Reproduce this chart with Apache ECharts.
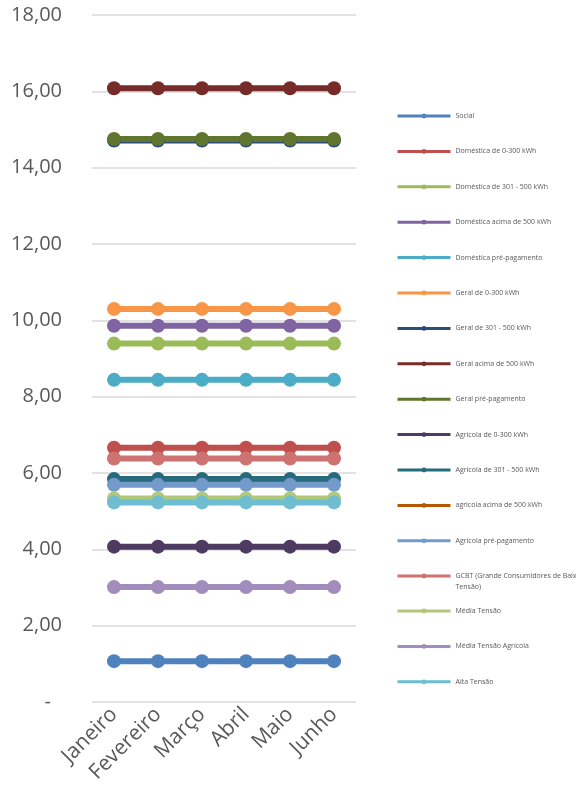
<!DOCTYPE html>
<html>
<head>
<meta charset="utf-8">
<script src="https://cdn.jsdelivr.net/npm/echarts@6/dist/echarts.min.js"></script>
<style>
html,body{margin:0;padding:0;background:#fff;}
#c{width:576px;height:798px;}
</style>
</head>
<body>
<div id="c"></div>
<script>
const months = ['Janeiro','Fevereiro','Março','Abril','Maio','Junho'];
const seriesNames = [
  'Social','Doméstica de 0-300 kWh','Doméstica de 301 - 500 kWh','Doméstica acima de 500 kWh',
  'Doméstica pré-pagamento','Geral de 0-300 kWh','Geral de 301 - 500 kWh','Geral acima de 500 kWh',
  'Geral pré-pagamento','Agrícola de 0-300 kWh','Agrícola de 301 - 500 kWh','agrícola acima de 500 kWh',
  'Agrícola pré-pagamento','GCBT (Grande Consumidores de Baixa Tensão)','Média Tensão','Média Tensão Agrícola','Alta Tensão'
];
const social            = [1.07,1.07,1.07,1.07,1.07,1.07];
const domestica0_300    = [6.66,6.66,6.66,6.66,6.66,6.66];
const domestica301_500  = [9.39,9.39,9.39,9.39,9.39,9.39];
const domesticaAcima500 = [9.86,9.86,9.86,9.86,9.86,9.86];
const domesticaPre      = [8.44,8.44,8.44,8.44,8.44,8.44];
const geral0_300        = [10.30,10.30,10.30,10.30,10.30,10.30];
const geral301_500      = [14.71,14.71,14.71,14.71,14.71,14.71];
const geralAcima500     = [16.08,16.08,16.08,16.08,16.08,16.08];
const geralPre          = [14.75,14.75,14.75,14.75,14.75,14.75];
const agricola0_300     = [4.07,4.07,4.07,4.07,4.07,4.07];
const agricola301_500   = [5.84,5.84,5.84,5.84,5.84,5.84];
const agricolaAcima500  = [null,null,null,null,null,null];
const agricolaPre       = [5.69,5.69,5.69,5.69,5.69,5.69];
const gcbt              = [6.38,6.38,6.38,6.38,6.38,6.38];
const mediaTensao       = [5.33,5.33,5.33,5.33,5.33,5.33];
const mediaTensaoAgr    = [3.01,3.01,3.01,3.01,3.01,3.01];
const altaTensao        = [5.23,5.23,5.23,5.23,5.23,5.23];
const seriesValues = [social,domestica0_300,domestica301_500,domesticaAcima500,domesticaPre,geral0_300,
  geral301_500,geralAcima500,geralPre,agricola0_300,agricola301_500,agricolaAcima500,agricolaPre,gcbt,
  mediaTensao,mediaTensaoAgr,altaTensao];
const colors = ['#4F81BD','#C0504D','#9BBB59','#8064A2','#4BACC6','#F79646','#2C4D75','#772C2A',
  '#5F7530','#4D3B62','#276A7C','#B65708','#729ACA','#CD7371','#AFC97A','#A18CBB','#6FBDD1'];

const legendText = {color:'#595959', fontFamily:'Open Sans', fontSize:7, lineHeight:10, height:10, width:150, overflow:'break'};
const legendCommon = {
  orient:'vertical', left:396, padding:0,
  itemWidth:53, itemHeight:6, itemGap:25.4,
  lineStyle:{width:3},
  textStyle:legendText
};
const legendA = seriesNames.slice(0,13);
const legendG = [{name:seriesNames[13], textStyle:{color:'#595959', fontFamily:'Open Sans', fontSize:7, lineHeight:10.5, width:132, overflow:'break'}}];
const legendB = seriesNames.slice(14);

const chart = echarts.init(document.getElementById('c'), null, {renderer:'canvas'});
chart.setOption({
  animation:false,
  color: colors,
  grid:{left:92, right:220, top:15, bottom:96, containLabel:false},
  xAxis:{
    type:'category', data:months, boundaryGap:true,
    axisLine:{show:false}, axisTick:{show:false},
    axisLabel:{rotate:45, margin:9, color:'#595959', fontFamily:'Open Sans', fontSize:21, interval:0}
  },
  yAxis:{
    type:'value', min:0, max:18, interval:2,
    axisLine:{show:false}, axisTick:{show:false},
    splitLine:{lineStyle:{color:'#D9D9D9', width:1.5}},
    axisLabel:{
      margin:30, color:'#595959', fontFamily:'Open Sans', fontSize:20,
      formatter:function(v){ return v===0 ? '{d|-}' : v.toFixed(2).replace('.',','); },
      rich:{d:{color:'#595959', fontFamily:'Open Sans', fontSize:20, padding:[0,11,0,0]}}
    }
  },
  legend:[
    Object.assign({}, legendCommon, {top:111, data:legendA}),
    Object.assign({}, legendCommon, {top:562, data:legendG, formatter:function(n){ return '\n' + n; }}),
    Object.assign({}, legendCommon, {top:606, data:legendB})
  ],
  series: seriesNames.map((n,i)=>({
    name:n, type:'line', data:seriesValues[i],
    symbol:'circle', symbolSize:14,
    lineStyle:{width:6, color:colors[i]},
    itemStyle:{color:colors[i]},
    connectNulls:false
  }))
});
</script>
</body>
</html>
